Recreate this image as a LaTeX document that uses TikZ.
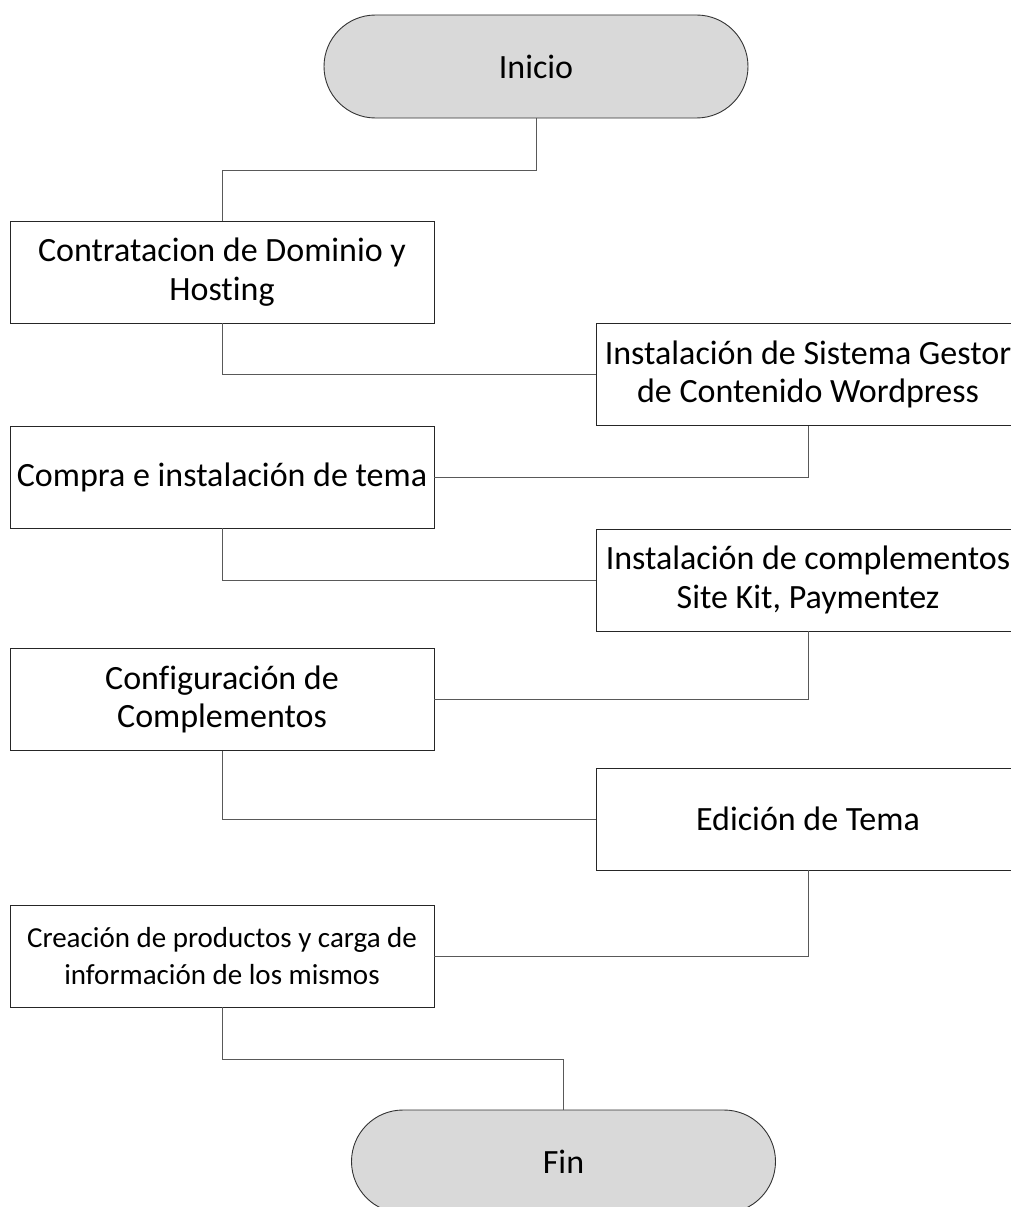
\documentclass[tikz,border=0pt]{standalone}
\usepackage{fontspec}
\setmainfont{Carlito}[Ligatures=NoCommon]
\begin{document}
\begin{tikzpicture}[x=1pt,y=-1pt,
  stepbox/.style={draw=black!85, line width=0.9pt, fill=white, minimum width=424pt, minimum height=102pt, inner sep=0pt, align=center, font=\fontsize{34}{38.5}\selectfont},
  smallbox/.style={stepbox, font=\fontsize{29}{37}\selectfont},
  term/.style={draw=black!80, line width=0.9pt, fill=black!15, minimum width=424pt, minimum height=103pt, rounded corners=51.5pt, inner sep=0pt, font=\fontsize{34}{38.5}\selectfont},
  conn/.style={draw=black!65, line width=1pt}]
\clip (0,0) rectangle (1011,1207);
\fill[white] (0,0) rectangle (1011,1207);
\node[term] (inicio) at (536,66.5) {Inicio};
\node[stepbox] (b1) at (222,272) {Contratacion de Dominio y\\Hosting};
\node[stepbox] (b2) at (808,374.5) {Instalación de Sistema Gestor\\de Contenido Wordpress};
\node[stepbox] (b3) at (222,477) {Compra e instalación de tema};
\node[stepbox] (b4) at (808,580) {Instalación de complementos\\Site Kit, Paymentez};
\node[stepbox] (b5) at (222,699.5) {Configuración de\\Complementos};
\node[stepbox] (b6) at (808,819) {Edición de Tema};
\node[smallbox] (b7) at (222,956) {Creación de productos y carga de\\información de los mismos};
\node[term] (fin) at (563.5,1161.5) {Fin};
\draw[conn] (inicio.south) -- ++(0,52) -| (b1.north);
\draw[conn] (b1.south) |- (b2.west);
\draw[conn] (b2.south) |- (b3.east);
\draw[conn] (b3.south) |- (b4.west);
\draw[conn] (b4.south) |- (b5.east);
\draw[conn] (b5.south) |- (b6.west);
\draw[conn] (b6.south) |- (b7.east);
\draw[conn] (b7.south) -- ++(0,52) -| (fin.north);
\end{tikzpicture}
\end{document}
